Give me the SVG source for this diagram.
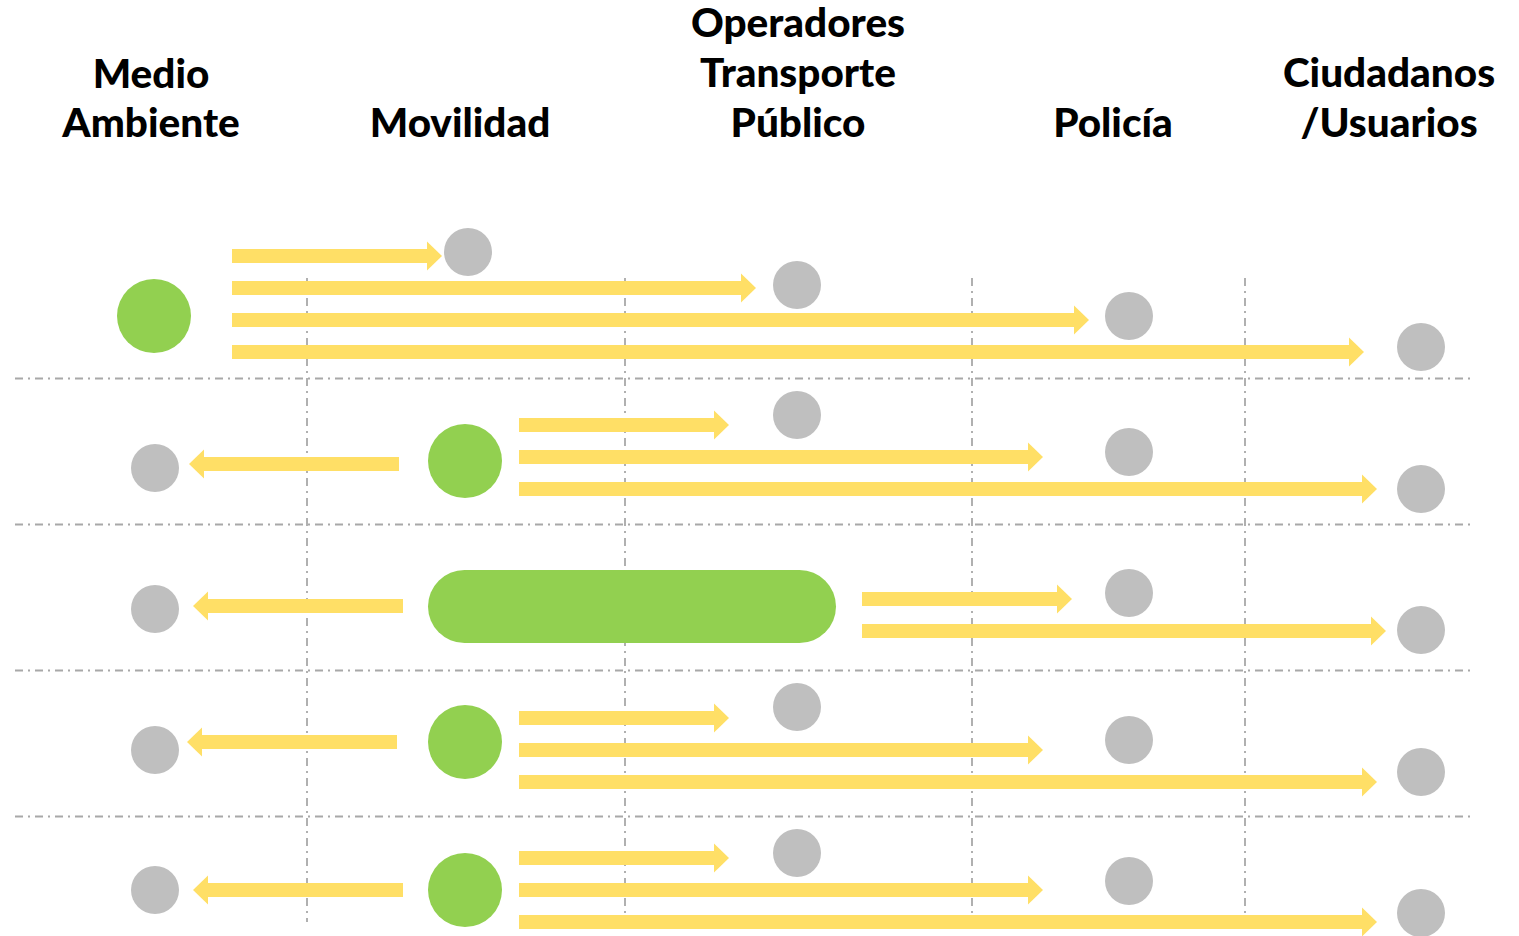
<svg xmlns="http://www.w3.org/2000/svg" width="1519" height="936" viewBox="0 0 1519 936">
<defs>
<style>
.t{font-family:Lato,"Noto Sans","Liberation Sans",sans-serif;font-weight:900;font-size:40.5px;fill:#000;text-anchor:middle}
.g{fill:#bfbfbf}
.s{fill:#92d050}
.a{stroke:#ffdf66;stroke-width:14;fill:none;marker-end:url(#h)}
.d{stroke:#a8a8a8;stroke-width:1.8;stroke-dasharray:8 5 2 5;fill:none}
</style>
<marker id="h" viewBox="0 -15 15 30" refX="0" refY="0" markerWidth="15" markerHeight="30" markerUnits="userSpaceOnUse" orient="auto">
<path d="M0,-14.5 L15,0 L0,14.5 Z" fill="#ffdf66"/>
</marker>
</defs>
<rect width="1519" height="936" fill="#fff"/>
<g id="grid">
<line class="d" x1="15" y1="378.5" x2="1473" y2="378.5"/>
<line class="d" x1="15" y1="524.5" x2="1473" y2="524.5"/>
<line class="d" x1="15" y1="670.5" x2="1473" y2="670.5"/>
<line class="d" x1="15" y1="816.5" x2="1473" y2="816.5"/>
<line class="d" x1="307" y1="278" x2="307" y2="922"/>
<line class="d" x1="625" y1="278" x2="625" y2="922"/>
<line class="d" x1="972" y1="278" x2="972" y2="922"/>
<line class="d" x1="1245" y1="278" x2="1245" y2="922"/>
</g>
<g id="headers">
<text class="t" x="151" y="88">Medio</text>
<text class="t" x="151" y="137">Ambiente</text>
<text class="t" x="460" y="137">Movilidad</text>
<text class="t" x="798" y="37">Operadores</text>
<text class="t" x="798" y="87">Transporte</text>
<text class="t" x="798" y="137">Público</text>
<text class="t" x="1113" y="137">Policía</text>
<text class="t" x="1389" y="87">Ciudadanos</text>
<text class="t" x="1389" y="137">/Usuarios</text>
</g>
<g id="connectors">
<line class="a" x1="232" y1="256" x2="427" y2="256"/>
<line class="a" x1="232" y1="288" x2="741" y2="288"/>
<line class="a" x1="232" y1="320" x2="1074" y2="320"/>
<line class="a" x1="232" y1="352" x2="1349" y2="352"/>
<line class="a" x1="399" y1="464" x2="204" y2="464"/>
<line class="a" x1="519" y1="425" x2="714" y2="425"/>
<line class="a" x1="519" y1="457" x2="1028" y2="457"/>
<line class="a" x1="519" y1="489" x2="1362" y2="489"/>
<line class="a" x1="403" y1="606" x2="208" y2="606"/>
<line class="a" x1="862" y1="599" x2="1057" y2="599"/>
<line class="a" x1="862" y1="631" x2="1371" y2="631"/>
<line class="a" x1="397" y1="742" x2="202" y2="742"/>
<line class="a" x1="519" y1="718" x2="714" y2="718"/>
<line class="a" x1="519" y1="750" x2="1028" y2="750"/>
<line class="a" x1="519" y1="782" x2="1362" y2="782"/>
<line class="a" x1="403" y1="890" x2="208" y2="890"/>
<line class="a" x1="519" y1="858" x2="714" y2="858"/>
<line class="a" x1="519" y1="890" x2="1028" y2="890"/>
<line class="a" x1="519" y1="922" x2="1362" y2="922"/>
</g>
<g id="row1">
<circle id="n1" class="s" cx="154" cy="316" r="37"/>
<circle id="n1a" class="g" cx="468" cy="252" r="24"/>
<circle id="n1b" class="g" cx="797" cy="285" r="24"/>
<circle id="n1c" class="g" cx="1129" cy="316" r="24"/>
<circle id="n1d" class="g" cx="1421" cy="347" r="24"/>
</g>
<g id="row2">
<circle id="n2" class="s" cx="465" cy="461" r="37"/>
<circle id="n2a" class="g" cx="155" cy="468" r="24"/>
<circle id="n2b" class="g" cx="797" cy="415" r="24"/>
<circle id="n2c" class="g" cx="1129" cy="452" r="24"/>
<circle id="n2d" class="g" cx="1421" cy="489" r="24"/>
</g>
<g id="row3">
<rect id="n3" class="s" x="428" y="570" width="408" height="73" rx="36.5"/>
<circle id="n3a" class="g" cx="155" cy="609" r="24"/>
<circle id="n3c" class="g" cx="1129" cy="593" r="24"/>
<circle id="n3d" class="g" cx="1421" cy="630" r="24"/>
</g>
<g id="row4">
<circle id="n4" class="s" cx="465" cy="742" r="37"/>
<circle id="n4a" class="g" cx="155" cy="750" r="24"/>
<circle id="n4b" class="g" cx="797" cy="707" r="24"/>
<circle id="n4c" class="g" cx="1129" cy="740" r="24"/>
<circle id="n4d" class="g" cx="1421" cy="772" r="24"/>
</g>
<g id="row5">
<circle id="n5" class="s" cx="465" cy="890" r="37"/>
<circle id="n5a" class="g" cx="155" cy="890" r="24"/>
<circle id="n5b" class="g" cx="797" cy="853" r="24"/>
<circle id="n5c" class="g" cx="1129" cy="881" r="24"/>
<circle id="n5d" class="g" cx="1421" cy="913" r="24"/>
</g>
</svg>
